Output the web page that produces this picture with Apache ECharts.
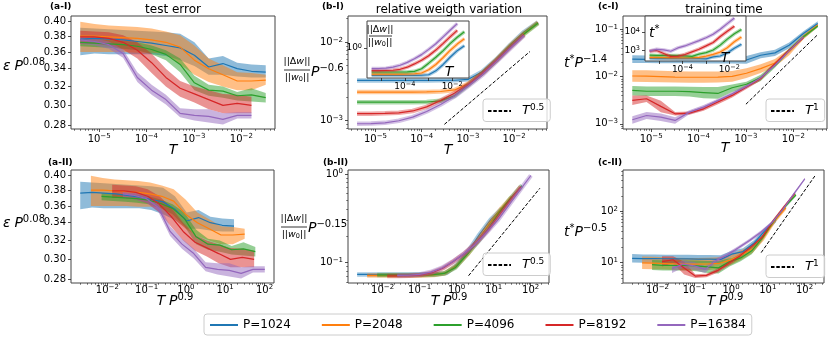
<!DOCTYPE html>
<html>
<head>
<meta charset="utf-8">
<script src="https://cdn.jsdelivr.net/npm/echarts@6/dist/echarts.min.js"></script>
<style>
  html, body { margin: 0; padding: 0; background: #fff; }
  #chart { width: 830px; height: 340px; }
</style>
</head>
<body>
<div id="chart"></div>
<script>
// temperatures T (x of the top row)
const T = [4e-6, 8e-6, 1.6e-5, 3.2e-5, 6.4e-5, 1.28e-4, 2.56e-4, 5.12e-4, 1.024e-3, 2.048e-3, 4.096e-3, 8.192e-3, 1.6384e-2, 3.2768e-2]
const P = [1024, 2048, 4096, 8192, 16384]
const NAMES = ['P=1024', 'P=2048', 'P=4096', 'P=8192', 'P=16384']
const COLORS = ['#1f77b4', '#ff7f0e', '#2ca02c', '#d62728', '#9467bd']

// test error  eps * P^0.08  (mean, lower, upper)
const errMid = [
  [.376, .377, .376, .375, .373, .371, .368, .365, .356, .342, .346, .340, .337, .336],
  [.380, .380, .379, .378, .377, .375, .372, .366, .350, .340, .333, .326, .326, .327],
  [.372, .371, .370, .369, .367, .363, .357, .345, .324, .316, .315, .310, .311, .308],
  [.379, .379, .377, .372, .362, .347, .330, .318, .312, .306, .300, .302, .300],
  [.375, .373, .369, .358, .330, .316, .306, .292, .290, .289, .286, .290, .290]
]
const errLo = [
  [.356, .358, .357, .357, .357, .357, .355, .350, .343, .333, .333, .331, .330, .330],
  [.360, .360, .360, .360, .359, .359, .358, .345, .333, .325, .320, .316, .316, .322],
  [.367, .366, .365, .364, .362, .357, .350, .336, .316, .310, .308, .305, .304, .303],
  [.370, .370, .368, .363, .352, .335, .320, .309, .303, .296, .292, .292, .292],
  [.370, .368, .364, .353, .325, .311, .301, .288, .285, .283, .281, .287, .287]
]
const errHi = [
  [.391, .390, .389, .388, .387, .386, .385, .383, .372, .352, .355, .347, .345, .344],
  [.399, .396, .394, .393, .392, .390, .386, .381, .368, .352, .344, .336, .335, .333],
  [.376, .376, .375, .374, .372, .368, .362, .352, .332, .322, .320, .314, .318, .313],
  [.387, .386, .385, .381, .372, .358, .340, .326, .320, .316, .312, .311, .309],
  [.379, .377, .373, .363, .336, .322, .311, .297, .296, .296, .292, .293, .293]
]

// relative weight variation  ||dw||/||w0|| * P^-0.6
const dwMid = [
  [3.24e-3, 3.24e-3, 3.24e-3, 3.24e-3, 3.24e-3, 3.24e-3, 3.25e-3, 3.26e-3, 3.35e-3, 4.2e-3, 6.0e-3, 9.2e-3, 1.35e-2, 1.8e-2],
  [2.30e-3, 2.30e-3, 2.30e-3, 2.30e-3, 2.30e-3, 2.31e-3, 2.34e-3, 2.45e-3, 2.95e-3, 4.0e-3, 5.9e-3, 9.0e-3, 1.3e-2, 1.78e-2],
  [1.71e-3, 1.71e-3, 1.71e-3, 1.71e-3, 1.71e-3, 1.72e-3, 1.78e-3, 2.06e-3, 2.85e-3, 4.0e-3, 5.8e-3, 8.8e-3, 1.27e-2, 1.75e-2],
  [1.22e-3, 1.22e-3, 1.23e-3, 1.25e-3, 1.32e-3, 1.49e-3, 1.8e-3, 2.22e-3, 2.9e-3, 4.0e-3, 5.8e-3, 8.6e-3, 1.25e-2],
  [9.06e-4, 9.1e-4, 9.3e-4, 9.9e-4, 1.1e-3, 1.3e-3, 1.6e-3, 2.03e-3, 2.75e-3, 3.8e-3, 5.6e-3, 8.3e-3, 1.22e-2]
]

// training time  t* * P^-1.4  (mean, lower, upper)
const tMid = [
  [0.0235, 0.0233, 0.0232, 0.0231, 0.0230, 0.0229, 0.0228, 0.0228, 0.0225, 0.0284, 0.0319, 0.0464, 0.0822, 0.134],
  [0.0103, 0.0102, 0.0100, 0.0098, 0.0097, 0.0097, 0.0098, 0.0101, 0.0118, 0.0148, 0.0195, 0.0335, 0.0698, 0.124],
  [0.0051, 0.0049, 0.0049, 0.0049, 0.0048, 0.0046, 0.0044, 0.0058, 0.0069, 0.0095, 0.0174, 0.0363, 0.0698, 0.118],
  [0.00313, 0.0034, 0.00234, 0.00163, 0.00168, 0.00208, 0.00289, 0.0040, 0.0060, 0.0091, 0.0189, 0.0363, 0.0676],
  [0.00122, 0.0015, 0.00138, 0.00118, 0.00177, 0.00226, 0.00313, 0.00435, 0.0062, 0.0095, 0.0174, 0.0352, 0.0698]
]
const tLo = [
  [0.0195, 0.0194, 0.0193, 0.0192, 0.0191, 0.019, 0.019, 0.019, 0.0188, 0.0245, 0.0275, 0.040, 0.073, 0.120],
  [0.0078, 0.0077, 0.0076, 0.0075, 0.0074, 0.0074, 0.0075, 0.0078, 0.0093, 0.0120, 0.0162, 0.0285, 0.062, 0.112],
  [0.0040, 0.0039, 0.0039, 0.0039, 0.0038, 0.0035, 0.0034, 0.0047, 0.0059, 0.0081, 0.0155, 0.033, 0.064, 0.110],
  [0.0025, 0.0029, 0.00175, 0.00150, 0.00155, 0.0019, 0.0026, 0.0036, 0.0055, 0.0083, 0.0174, 0.034, 0.063],
  [0.00100, 0.00127, 0.00115, 0.00100, 0.00160, 0.0020, 0.0029, 0.0040, 0.0057, 0.0088, 0.0163, 0.033, 0.066]
]
const tHi = [
  [0.0285, 0.028, 0.028, 0.0278, 0.0277, 0.0276, 0.0275, 0.0275, 0.0272, 0.033, 0.037, 0.053, 0.092, 0.150],
  [0.0137, 0.0136, 0.0133, 0.0130, 0.0128, 0.0128, 0.0129, 0.0132, 0.0150, 0.0183, 0.0235, 0.039, 0.078, 0.136],
  [0.0063, 0.0062, 0.0062, 0.0062, 0.0061, 0.0060, 0.0060, 0.0068, 0.0078, 0.0110, 0.0195, 0.040, 0.075, 0.126],
  [0.0040, 0.0040, 0.0031, 0.00178, 0.00182, 0.0023, 0.0032, 0.0044, 0.0066, 0.0099, 0.0205, 0.039, 0.072],
  [0.00145, 0.00178, 0.00165, 0.00138, 0.00195, 0.0025, 0.0034, 0.0047, 0.0067, 0.0102, 0.0185, 0.037, 0.073]
]

// dashed guide lines (two end points each)
const guideB1 = [[3.1e-4, 8.9e-4], [2.2e-2, 7.6e-3]]
const guideC1 = [[1e-3, 2.6e-3], [3.2e-2, 7.6e-2]]
const guideB2 = [[2.1, 0.0708], [178, 0.69]]
const guideC2 = [[6.6, 15.6], [190, 490]]

// scaling exponents from the axis labels
const X_EXP = 0.9      // T P^0.9
const DW_EXP = 0.45    // P^-0.6 -> P^-0.15
const TT_EXP = 0.9     // P^-1.4 -> P^-0.5
const DW_RAW = 0.6     // inset: raw ||dw||/||w0||
const TT_RAW = 1.4     // inset: raw t*

const FONT = 'DejaVu Sans'
const chart = echarts.init(document.getElementById('chart'))

const RT = {
  b: { fontSize: 10, fontFamily: FONT, color: '#000', lineHeight: 12 },
  s: { fontSize: 7, fontFamily: FONT, color: '#000', verticalAlign: 'top', lineHeight: 7 }
}
const RT_IN = {
  b: { fontSize: 9, fontFamily: FONT, color: '#000', lineHeight: 11 },
  s: { fontSize: 6.5, fontFamily: FONT, color: '#000', verticalAlign: 'top', lineHeight: 6.5 }
}
const RL = {
  i: { fontSize: 14, fontFamily: FONT, fontStyle: 'italic', color: '#000', lineHeight: 18 },
  r: { fontSize: 14, fontFamily: FONT, color: '#000', lineHeight: 18 },
  s: { fontSize: 10, fontFamily: FONT, color: '#000', verticalAlign: 'top', lineHeight: 10 },
  fi: { fontSize: 9.5, fontFamily: FONT, fontStyle: 'italic', color: '#000' },
  fr: { fontSize: 9.5, fontFamily: FONT, color: '#000' },
  fs: { fontSize: 6.5, fontFamily: FONT, color: '#000', verticalAlign: 'bottom' }
}

const tenPow = v => {
  const n = Math.round(Math.log10(v))
  return '{b|10}{s|' + (n < 0 ? '\u2212' : '') + Math.abs(n) + '}'
}
const fixed2 = v => v.toFixed(2)
const decades = (a, b) => { const r = []; for (let d = a; d <= b; d++) r.push(Math.pow(10, d)); return r }
const minors = (lo, hi) => {
  const r = []
  for (let d = Math.floor(Math.log10(lo)); d <= Math.ceil(Math.log10(hi)); d++) {
    for (let m = 2; m <= 9; m++) { const v = m * Math.pow(10, d); if (v > lo && v < hi) r.push(v) }
  }
  return r
}

const xMain = [], xMinor = [], yMain = [], yMinor = []
function axes(list, minorList, dim, g, lo, hi, major, labels, fmt, rich, minor, z, margin) {
  const base = { type: 'log', gridIndex: g, min: lo, max: hi, position: dim === 'x' ? 'bottom' : 'left',
    z: z || 0, splitLine: { show: false }, axisLine: { show: false } }
  list.push(Object.assign({}, base, {
    axisTick: { show: true, length: 3, customValues: major, lineStyle: { color: '#222', width: 0.8 } },
    axisLabel: { show: true, customValues: labels, formatter: fmt, rich: rich, color: '#000',
      fontSize: 10, fontFamily: FONT, margin: margin != null ? margin : (dim === 'x' ? 3 : 5) }
  }))
  minorList.push(Object.assign({}, base, {
    axisTick: { show: minor.length > 0, length: 1.8, customValues: minor, lineStyle: { color: '#222', width: 0.6 } },
    axisLabel: { show: false }
  }))
}

const GRIDS = [
  { left: 71, top: 16, width: 204, height: 113 },   // a-I
  { left: 348, top: 16, width: 199, height: 113 },  // b-I
  { left: 623, top: 16, width: 204, height: 113 },  // c-I
  { left: 71, top: 170, width: 203, height: 113 },  // a-II
  { left: 348, top: 170, width: 201, height: 113 }, // b-II
  { left: 623, top: 170, width: 201, height: 113 }, // c-II
  { left: 367, top: 21, width: 102, height: 57, z: 10 },   // inset b
  { left: 645, top: 16, width: 101, height: 45, z: 10 }    // inset c
]

const xTop = [Math.pow(10, -5.594), Math.pow(10, -1.289)]
const xA2 = [Math.pow(10, -2.924), Math.pow(10, 2.242)]
const xB2 = [Math.pow(10, -2.936), Math.pow(10, 2.497)]
const xC2 = [Math.pow(10, -2.937), Math.pow(10, 2.528)]
const yA = [0.2768, 0.4069]
const yB1 = [Math.pow(10, -3.11), Math.pow(10, -1.665)]
const yC1 = [Math.pow(10, -3.11), Math.pow(10, -0.715)]
const yB2 = [Math.pow(10, -1.232), Math.pow(10, 0.045)]
const yC2 = [Math.pow(10, 0.599), Math.pow(10, 2.808)]
const yBi = [Math.pow(10, -0.75), Math.pow(10, 0.68)]
const yCi = [Math.pow(10, 2.45), Math.pow(10, 4.853)]
const errTicks = [0.28, 0.30, 0.32, 0.34, 0.36, 0.38, 0.40]

// x axes
;[0, 1, 2].forEach(g => axes(xMain, xMinor, 'x', g, xTop[0], xTop[1], decades(-5, -2), decades(-5, -2), tenPow, RT, minors(xTop[0], xTop[1]), 0, 4))
axes(xMain, xMinor, 'x', 3, xA2[0], xA2[1], decades(-2, 2), decades(-2, 2), tenPow, RT, minors(xA2[0], xA2[1]), 0, 1)
axes(xMain, xMinor, 'x', 4, xB2[0], xB2[1], decades(-2, 2), decades(-2, 2), tenPow, RT, minors(xB2[0], xB2[1]), 0, 1)
axes(xMain, xMinor, 'x', 5, xC2[0], xC2[1], decades(-2, 2), decades(-2, 2), tenPow, RT, minors(xC2[0], xC2[1]), 0, 1)
axes(xMain, xMinor, 'x', 6, xTop[0], xTop[1], decades(-5, -2), [1e-4, 1e-2], tenPow, RT_IN, [], 12)
axes(xMain, xMinor, 'x', 7, xTop[0], xTop[1], decades(-5, -2), [1e-4, 1e-2], tenPow, RT_IN, [], 12)
// y axes
axes(yMain, yMinor, 'y', 0, yA[0], yA[1], errTicks, errTicks, fixed2, null, [])
axes(yMain, yMinor, 'y', 1, yB1[0], yB1[1], decades(-3, -2), decades(-3, -2), tenPow, RT, minors(yB1[0], yB1[1]))
axes(yMain, yMinor, 'y', 2, yC1[0], yC1[1], decades(-3, -1), decades(-3, -1), tenPow, RT, minors(yC1[0], yC1[1]))
axes(yMain, yMinor, 'y', 3, yA[0], yA[1], errTicks, errTicks, fixed2, null, [])
axes(yMain, yMinor, 'y', 4, yB2[0], yB2[1], decades(-1, 0), decades(-1, 0), tenPow, RT, minors(yB2[0], yB2[1]))
axes(yMain, yMinor, 'y', 5, yC2[0], yC2[1], decades(1, 2), decades(1, 2), tenPow, RT, minors(yC2[0], yC2[1]))
axes(yMain, yMinor, 'y', 6, yBi[0], yBi[1], [1], [1], tenPow, RT_IN, [], 12)
axes(yMain, yMinor, 'y', 7, yCi[0], yCi[1], [1e3, 1e4], [1e3, 1e4], tenPow, RT_IN, [], 12)

// helpers for marks
function band(g, xs, lo, hi, color, z) {
  const pts = lo.map((v, i) => [xs[i], v, hi[i]])
  return {
    type: 'custom', xAxisIndex: g, yAxisIndex: g, z: z || 2, silent: true,
    data: pts, encode: { x: 0, y: [1, 2] },
    renderItem: (params, api) => {
      if (params.dataIndex !== 0) return null
      const top = pts.map(p => api.coord([p[0], p[2]]))
      const bot = pts.map(p => api.coord([p[0], p[1]])).reverse()
      return { type: 'polygon', shape: { points: top.concat(bot) }, style: { fill: color, opacity: 0.5 } }
    }
  }
}
function line(g, xs, ys, color, name, width, opacity, z) {
  const s = {
    type: 'line', xAxisIndex: g, yAxisIndex: g, z: z || 2, silent: true,
    data: ys.map((v, i) => [xs[i], v]), symbol: 'none',
    lineStyle: { color: color, width: width || 1.2, opacity: opacity == null ? 1 : opacity },
    itemStyle: { color: color }
  }
  if (name) s.name = name
  return s
}
function guide(g, pts, name) {
  return { type: 'line', name: name, xAxisIndex: g, yAxisIndex: g, z: 3, silent: true, data: pts, symbol: 'none',
    lineStyle: { color: '#000', width: 1, type: [3.5, 1.8] }, itemStyle: { color: '#000' } }
}

const series = []
P.forEach((p, k) => {
  const n = errMid[k].length
  const xs = T.slice(0, n)
  const xs2 = xs.map(t => t * Math.pow(p, X_EXP))
  // a-I
  series.push(band(0, xs, errLo[k], errHi[k], COLORS[k]))
  series.push(line(0, xs, errMid[k], COLORS[k], NAMES[k]))
  // b-I
  series.push(line(1, xs, dwMid[k], COLORS[k], null, 4.5, 0.4))
  series.push(line(1, xs, dwMid[k], COLORS[k]))
  // c-I
  series.push(band(2, xs, tLo[k], tHi[k], COLORS[k]))
  series.push(line(2, xs, tMid[k], COLORS[k]))
  // a-II
  series.push(band(3, xs2, errLo[k], errHi[k], COLORS[k]))
  series.push(line(3, xs2, errMid[k], COLORS[k]))
  // b-II
  const dw2 = dwMid[k].map(v => v * Math.pow(p, DW_EXP))
  series.push(line(4, xs2, dw2, COLORS[k], null, 4.5, 0.4))
  series.push(line(4, xs2, dw2, COLORS[k]))
  // c-II
  const f2 = Math.pow(p, TT_EXP)
  series.push(band(5, xs2, tLo[k].map(v => v * f2), tHi[k].map(v => v * f2), COLORS[k]))
  series.push(line(5, xs2, tMid[k].map(v => v * f2), COLORS[k]))
  // insets
  const dwRaw = dwMid[k].map(v => v * Math.pow(p, DW_RAW))
  series.push(line(6, xs, dwRaw, COLORS[k], null, 3.5, 0.4, 11))
  series.push(line(6, xs, dwRaw, COLORS[k], null, 1.2, 1, 11))
  const tRaw = tMid[k].map(v => v * Math.pow(p, TT_RAW))
  series.push(line(7, xs, tRaw, COLORS[k], null, 3.5, 0.4, 11))
  series.push(line(7, xs, tRaw, COLORS[k], null, 1.2, 1, 11))
})
series.push(guide(1, guideB1, 'T^0.5'))
series.push(guide(2, guideC1, 'T^1'))
series.push(guide(4, guideB2, 'T^0.5'))
series.push(guide(5, guideC2, 'T^1'))

// legends (itemHeight tiny so the line icon carries no visible marker)
const supName = name => { const [a, b] = name.split('^'); return '{i|' + a + '}{s|' + b + '}' }
const LEG_RICH = {
  i: { fontSize: 13, fontFamily: FONT, fontStyle: 'italic', color: '#000', lineHeight: 16, padding: [0, 0, 0, 6] },
  s: { fontSize: 9, fontFamily: FONT, color: '#000', verticalAlign: 'top', lineHeight: 9 }
}
function smallLegend(left, top, name) {
  return { show: true, left: left, top: top, data: [name], selectedMode: false, itemWidth: 23, itemHeight: 2,
    itemStyle: { opacity: 0 }, formatter: supName, textStyle: { rich: LEG_RICH },
    borderColor: '#ccc', borderWidth: 1, borderRadius: 3,
    backgroundColor: 'rgba(255,255,255,0.8)', padding: [4, 6, 4, 4], z: 8 }
}
const legends = [
  { show: true, left: 204, top: 314, data: NAMES, selectedMode: false, itemWidth: 28, itemHeight: 2, itemGap: 30,
    itemStyle: { opacity: 0 },
    textStyle: { fontSize: 12, fontFamily: FONT, color: '#000' }, borderColor: '#ccc', borderWidth: 1,
    borderRadius: 3, padding: [5, 6, 4, 5] },
  smallLegend(483, 99, 'T^0.5'),
  smallLegend(766, 99, 'T^1'),
  smallLegend(483, 253, 'T^0.5'),
  smallLegend(766, 255, 'T^1')
]

// text: titles, panel tags, axis labels
const txt = (x, y, text, opt) => ({ type: 'text', x: x, y: y, z: 20, silent: true,
  style: Object.assign({ text: text, rich: RL, fill: '#000', align: 'left', verticalAlign: 'middle',
    fontFamily: FONT, fontSize: 12 }, opt || {}) })
const hline = (x1, x2, y) => ({ type: 'line', z: 20, silent: true, shape: { x1: x1, y1: y, x2: x2, y2: y },
  style: { stroke: '#000', lineWidth: 0.8 } })
const graphic = [
  txt(173, 10, 'test error', { align: 'center' }),
  txt(449, 10, 'relative weigth variation', { align: 'center' }),
  txt(724, 10, 'training time', { align: 'center' }),
  txt(50, 7, '(a-I)', { fontWeight: 'bold', fontSize: 9 }),
  txt(322, 7, '(b-I)', { fontWeight: 'bold', fontSize: 9 }),
  txt(598, 7, '(c-I)', { fontWeight: 'bold', fontSize: 9 }),
  txt(48, 163, '(a-II)', { fontWeight: 'bold', fontSize: 9 }),
  txt(323, 163, '(b-II)', { fontWeight: 'bold', fontSize: 9 }),
  txt(598, 163, '(c-II)', { fontWeight: 'bold', fontSize: 9 }),
  // x labels
  txt(173, 150, '{i|T}', { align: 'center' }),
  txt(448, 150, '{i|T}', { align: 'center' }),
  txt(725, 148, '{i|T}', { align: 'center' }),
  txt(175, 301, '{i|T} {i|P}{s|0.9}', { align: 'center' }),
  txt(449, 301, '{i|T} {i|P}{s|0.9}', { align: 'center' }),
  txt(725, 301, '{i|T} {i|P}{s|0.9}', { align: 'center' }),
  // y labels
  txt(3, 66, '{i|\u03b5} {i|P}{s|0.08}'),
  txt(3, 223, '{i|\u03b5} {i|P}{s|0.08}'),
  txt(297, 62, '{fr|||\u0394}{fi|w}{fr|||}', { align: 'center' }),
  hline(284, 310, 70),
  txt(297, 78, '{fr|||}{fi|w}{fs|0}{fr|||}', { align: 'center' }),
  txt(311, 72, '{i|P}{s|\u22120.6}'),
  txt(294, 219, '{fr|||\u0394}{fi|w}{fr|||}', { align: 'center' }),
  hline(281, 307, 227),
  txt(294, 235, '{fr|||}{fi|w}{fs|0}{fr|||}', { align: 'center' }),
  txt(308, 228, '{i|P}{s|\u22120.15}'),
  txt(564, 63, '{i|t}{s|*}{i|P}{s|\u22121.4}'),
  txt(564, 232, '{i|t}{s|*}{i|P}{s|\u22120.5}'),
  // inset labels
  txt(380, 30, '{fr|||\u0394}{fi|w}{fr|||}', { align: 'center' }),
  hline(369, 392, 36),
  txt(380, 43, '{fr|||}{fi|w}{fs|0}{fr|||}', { align: 'center' }),
  txt(449, 72, '{i|T}', { align: 'center' }),
  txt(649, 33, '{i|t}{s|*}'),
  txt(725, 58, '{i|T}', { align: 'center' })
]

chart.setOption({
  animation: false,
  textStyle: { fontFamily: FONT },
  grid: GRIDS.map(g => Object.assign({ show: true, borderColor: '#444', borderWidth: 1,
    backgroundColor: g.z ? '#fff' : 'transparent' }, g)),
  xAxis: xMain.concat(xMinor),
  yAxis: yMain.concat(yMinor),
  legend: legends,
  series: series,
  graphic: graphic
})
</script>
</body>
</html>
